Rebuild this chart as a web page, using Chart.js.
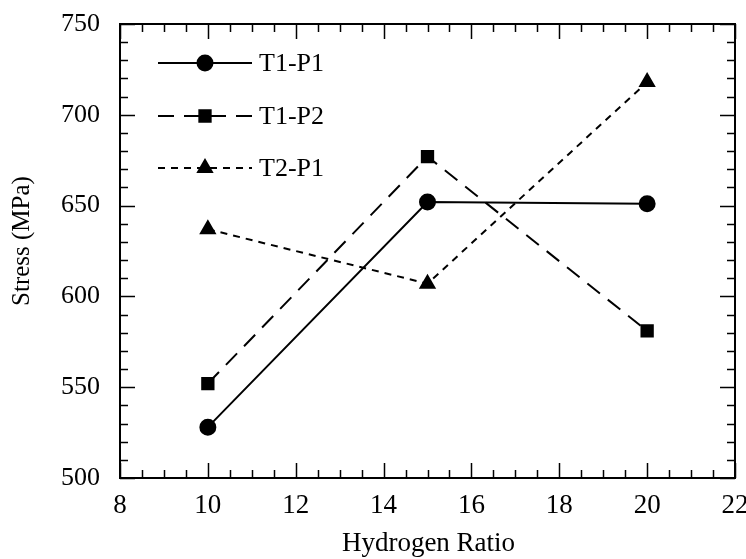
<!DOCTYPE html>
<html>
<head>
<meta charset="utf-8">
<script src="https://cdn.jsdelivr.net/npm/chart.js@4.4.1/dist/chart.umd.min.js"></script>
<style>
  html, body { margin: 0; padding: 0; background: #fff; }
  #wrap { width: 746px; height: 559px; position: relative; }
</style>
</head>
<body>
<div id="wrap"><canvas id="myChart" width="746" height="559"></canvas></div>
<script>
// hydrogen ratio on x, stress (MPa) on y
const hydrogenRatio = [10, 15, 20]
const t1p1 = [528, 652, 651]
const t1p2 = [552, 677, 581]
const t2p1 = [637, 607, 718]

const xTicks = [8, 10, 12, 14, 16, 18, 20, 22]
const yTicks = [500, 550, 600, 650, 700, 750]

const serif = '"Liberation Serif", "Times New Roman", serif'

const toPoints = (ys) => hydrogenRatio.map((x, i) => ({ x: x, y: ys[i] }))

// frame + inward ticks on all four sides
const frameTicks = {
    id: 'frameTicks',
    afterDraw(chart) {
        const { ctx, chartArea: a, scales } = chart
        const xs = scales.x, ys = scales.y
        ctx.save()
        ctx.strokeStyle = '#000'
        ctx.lineWidth = 2
        ctx.strokeRect(a.left, a.top, a.right - a.left, a.bottom - a.top)
        ctx.lineWidth = 1.5
        ctx.beginPath()
        for (let v = xTicks[0]; v <= xTicks[xTicks.length - 1] + 1e-6; v += 0.5) {
            const px = Math.round(xs.getPixelForValue(v)) + 0.5
            const len = Math.abs(v % 2) < 1e-6 ? 15 : 8
            ctx.moveTo(px, a.bottom); ctx.lineTo(px, a.bottom - len)
            ctx.moveTo(px, a.top); ctx.lineTo(px, a.top + len)
        }
        for (let v = yTicks[0]; v <= yTicks[yTicks.length - 1] + 1e-6; v += 10) {
            const py = Math.round(ys.getPixelForValue(v)) + 0.5
            const len = v % 50 === 0 ? 15 : 8
            ctx.moveTo(a.left, py); ctx.lineTo(a.left + len, py)
            ctx.moveTo(a.right, py); ctx.lineTo(a.right - len, py)
        }
        ctx.stroke()

        // axis titles
        ctx.fillStyle = '#000'
        ctx.textAlign = 'center'
        ctx.textBaseline = 'middle'
        ctx.font = '27px ' + serif
        ctx.fillText('Hydrogen Ratio', (a.left + a.right) / 2 + 1, 544)
        ctx.translate(22, 241)
        ctx.rotate(-Math.PI / 2)
        ctx.font = '25px ' + serif
        ctx.fillText('Stress (MPa)', 0, 0)
        ctx.restore()
    }
}

// legend drawn inside the plot, line sample with marker in the middle
const innerLegend = {
    id: 'innerLegend',
    afterDraw(chart) {
        const { ctx } = chart
        const rows = [63, 116, 168]
        chart.data.datasets.forEach((ds, i) => {
            const y = rows[i]
            ctx.save()
            ctx.strokeStyle = '#000'
            ctx.lineWidth = ds.borderWidth
            ctx.setLineDash(ds.borderDash || [])
            ctx.beginPath()
            ctx.moveTo(158, y); ctx.lineTo(252, y)
            ctx.stroke()
            ctx.setLineDash([])
            ctx.fillStyle = '#000'
            Chart.helpers.drawPoint(ctx, { pointStyle: ds.pointStyle, radius: ds.pointRadius, borderWidth: 1 }, 205, y)
            ctx.font = '26px ' + serif
            ctx.textBaseline = 'middle'
            ctx.fillText(ds.label, 259, y + 1)
            ctx.restore()
        })
    }
}

const ctx = document.getElementById('myChart').getContext('2d')

const chart = new Chart(ctx, {
    type: 'line',
    data: {
        datasets: [
            {
                label: 'T1-P1',
                data: toPoints(t1p1),
                borderColor: '#000',
                backgroundColor: '#000',
                borderWidth: 2,
                pointStyle: 'circle',
                pointRadius: 7.5,
            },
            {
                label: 'T1-P2',
                data: toPoints(t1p2),
                borderColor: '#000',
                backgroundColor: '#000',
                borderWidth: 2,
                borderDash: [16, 10],
                pointStyle: 'rect',
                pointRadius: 8,
            },
            {
                label: 'T2-P1',
                data: toPoints(t2p1),
                borderColor: '#000',
                backgroundColor: '#000',
                borderWidth: 2,
                borderDash: [7, 6],
                pointStyle: 'triangle',
                pointRadius: 8,
            }
        ]
    },
    options: {
        responsive: false,
        animation: false,
        layout: { padding: { left: 0, top: 24, right: 11, bottom: 0 } },
        plugins: {
            legend: { display: false },
            tooltip: { enabled: false }
        },
        elements: { line: { tension: 0 }, point: { borderWidth: 1 } },
        scales: {
            x: {
                type: 'linear',
                min: 8, max: 22,
                grid: { display: false, drawTicks: false },
                border: { display: false },
                ticks: { stepSize: 2, padding: 12, color: '#000', font: { family: serif, size: 27 } },
                afterFit(s) { s.height = 81; s.paddingLeft = 0; s.paddingRight = 0 }
            },
            y: {
                min: 500, max: 750,
                grid: { display: false, drawTicks: false },
                border: { display: false },
                ticks: { stepSize: 50, padding: 20, color: '#000', font: { family: serif, size: 26 } },
                afterFit(s) { s.width = 120; s.paddingTop = 0; s.paddingBottom = 0 }
            }
        }
    },
    plugins: [frameTicks, innerLegend]
})
</script>
</body>
</html>
